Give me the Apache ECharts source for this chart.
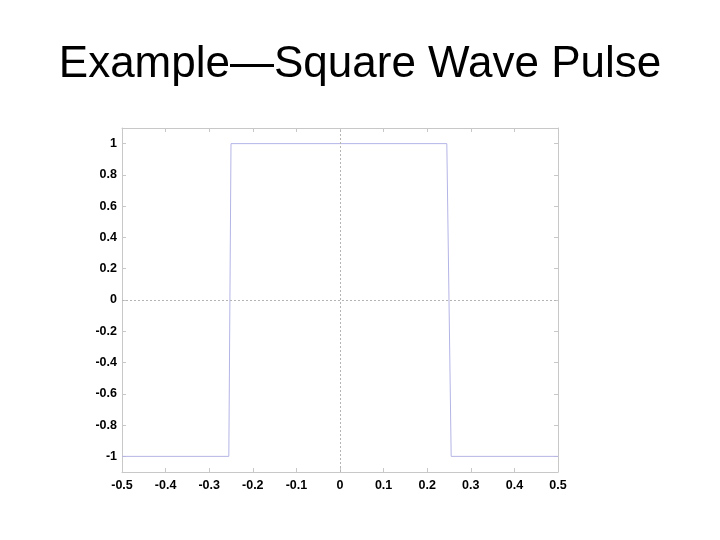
<!DOCTYPE html>
<html><head><meta charset="utf-8">
<script src="https://cdn.jsdelivr.net/npm/echarts@6/dist/echarts.min.js"></script>
<style>html,body{margin:0;padding:0;background:#fff}#c{width:720px;height:540px}</style>
</head><body><div id="c"></div>
<script>
const titleText = "Example\u2014Square Wave Pulse";
const xValues = [-0.5, -0.255, -0.25, 0.245, 0.255, 0.5];
const yValues = [-1, -1, 1, 1, -1, -1];
const xTicks = [-0.5, -0.4, -0.3, -0.2, -0.1, 0, 0.1, 0.2, 0.3, 0.4, 0.5];
const yTicks = [-1, -0.8, -0.6, -0.4, -0.2, 0, 0.2, 0.4, 0.6, 0.8, 1];

const chart = echarts.init(document.getElementById('c'), null, {renderer: 'canvas'});
const frame = '#c8c8c8';
const lbl = {fontFamily: 'Liberation Sans, Arial, sans-serif', fontWeight: 'bold', fontSize: 12.5, color: '#000'};
const fmt = v => { const r = Math.round(v * 10) / 10; return r === 0 ? '0' : String(r); };
const commonX = {type: 'value', min: -0.5, max: 0.5, interval: 0.1,
  axisTick: {show: true, inside: true, length: 4, lineStyle: {color: frame}},
  splitLine: {show: false}};
const commonY = {type: 'value', min: -1.1, max: 1.1, interval: 0.2,
  axisLine: {show: true, onZero: false, lineStyle: {color: frame, width: 1}},
  splitLine: {show: false}};
chart.setOption({
  animation: false,
  title: {text: titleText, left: 'center', top: 38,
    textStyle: {fontFamily: 'Liberation Sans, Arial, sans-serif', fontWeight: 'normal', fontSize: 44, color: '#000'}},
  grid: {left: 122, right: 162, top: 128, bottom: 68, containLabel: false},
  xAxis: [
    Object.assign({}, commonX, {position: 'bottom', axisLine: {show: true, onZero: false, lineStyle: {color: frame}},
      axisLabel: Object.assign({}, lbl, {margin: 7, formatter: fmt, customValues: xTicks})}),
    Object.assign({}, commonX, {position: 'top', axisLine: {show: true, onZero: false, lineStyle: {color: frame}},
      axisLabel: {show: false}})
  ],
  yAxis: [
    Object.assign({}, commonY, {position: 'left',
      axisTick: {show: true, inside: true, length: 4, lineStyle: {color: frame}, customValues: yTicks},
      axisLabel: Object.assign({}, lbl, {margin: 5, customValues: yTicks, formatter: fmt})}),
    Object.assign({}, commonY, {position: 'right',
      axisTick: {show: true, inside: true, length: 4, lineStyle: {color: frame}, customValues: yTicks},
      axisLabel: {show: false}})
  ],
  series: [{
    type: 'line', xAxisIndex: 0, yAxisIndex: 0,
    data: xValues.map((x, i) => [x, yValues[i]]),
    showSymbol: false, symbol: 'none',
    lineStyle: {color: '#b4b4e6', width: 1},
    markLine: {silent: true, symbol: 'none', label: {show: false},
      lineStyle: {color: '#b4b4b4', type: [2, 2], width: 1},
      data: [{xAxis: 0}, {yAxis: 0}]}
  }]
});
</script></body></html>
